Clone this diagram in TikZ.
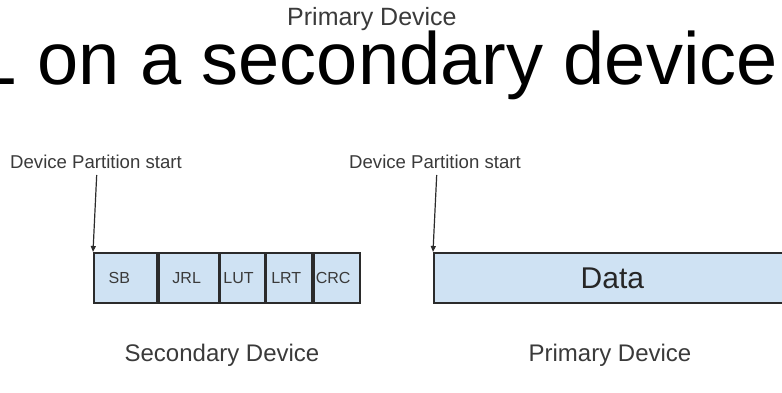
\documentclass[tikz,border=0pt]{standalone}
\usepackage{fontspec}
\setmainfont{Liberation Sans}
\usetikzlibrary{arrows.meta}
\definecolor{cellfill}{HTML}{CFE2F3}
\definecolor{edge}{HTML}{2B2B2B}
\definecolor{labelgray}{HTML}{3A3A3A}

\begin{document}
\begin{tikzpicture}[x=1pt,y=-1pt,
  cell/.style={draw=edge, line width=1.8pt, fill=cellfill, minimum height=50pt,
    inner sep=0pt, anchor=north west},
  celltext/.style={font=\fontsize{16}{16}\selectfont, text=labelgray, inner sep=0pt},
  caption/.style={font=\fontsize{24}{24}\selectfont, text=labelgray, inner sep=0pt, anchor=base},
  marker/.style={font=\fontsize{18.6}{19}\selectfont, text=labelgray, inner sep=0pt, anchor=base west},
  pointer/.style={draw=edge, line width=1.2pt, -{Triangle[length=6pt,width=5pt]}}]
\useasboundingbox (0,0) rectangle (782,393);
\clip (0,0) rectangle (782,393);

% heading and title
\node[font=\fontsize{74}{74}\selectfont, anchor=base east, inner sep=0pt] (title)
  at (778,85) {L on a secondary device};
\node[font=\fontsize{25}{25}\selectfont, text=labelgray, anchor=base west, inner sep=0pt]
  (heading) at (287,26) {Primary Device};

% secondary device layout
\node[cell, minimum width=63pt] (sb) at (93,252) {};
\node[cell, minimum width=60pt] (jrl) at (sb.north east) {};
\node[cell, minimum width=44pt] (lut) at (jrl.north east) {};
\node[cell, minimum width=46pt] (lrt) at (lut.north east) {};
\node[cell, minimum width=46pt] (crc) at (lrt.north east) {};
\node[celltext] (sbtext) at ([xshift=-6pt]sb.center) {SB};
\node[celltext] (jrltext) at ([xshift=-2pt]jrl.center) {JRL};
\node[celltext] (luttext) at ([xshift=-4pt]lut.center) {LUT};
\node[celltext] (lrttext) at ([xshift=-3pt]lrt.center) {LRT};
\node[celltext] (crctext) at ([xshift=-4pt]crc.center) {CRC};

% primary device layout
\node[cell, minimum width=357pt] (data) at (433,252) {};
\node[font=\fontsize{30}{30}\selectfont, text=black!85, inner sep=0pt] (datatext)
  at (data.center) {Data};

% partition start markers
\node[marker] (startL) at (10,168) {Device Partition start};
\node[marker] (startR) at (349,168) {Device Partition start};
\coordinate (pl) at (96.7,175);
\coordinate (pr) at (436.7,175);
\draw[pointer] (pl) -- (sb.north west);
\draw[pointer] (pr) -- (data.north west);

% captions
\node[caption] (seccap) at (222,361) {Secondary Device};
\node[caption] (pricap) at (610,361) {Primary Device};
\end{tikzpicture}
\end{document}
